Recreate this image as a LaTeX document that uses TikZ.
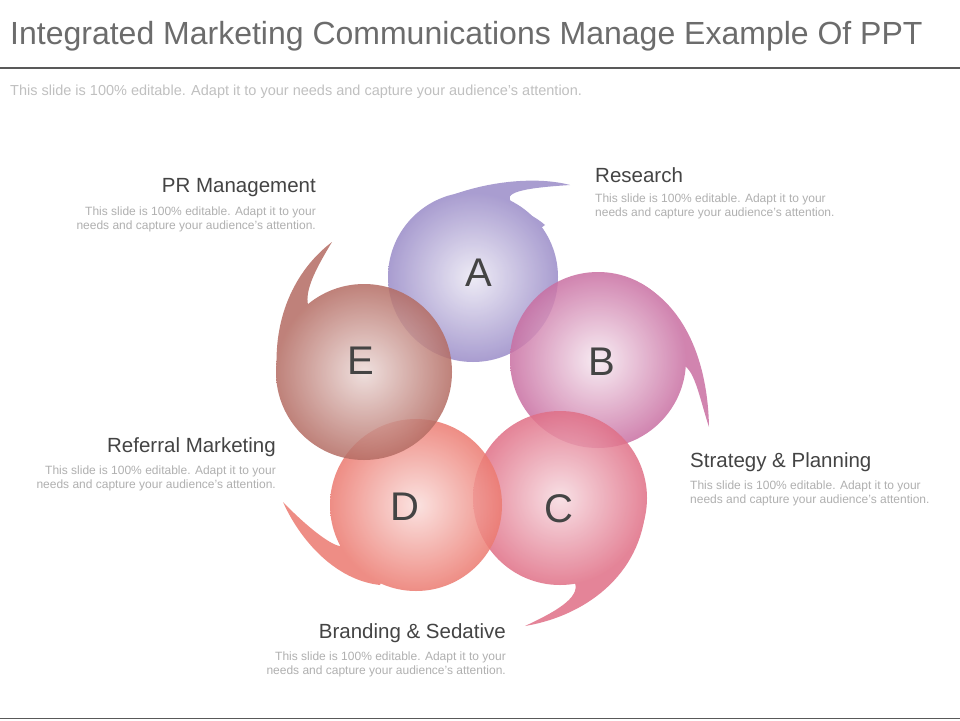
\documentclass[tikz,border=0pt]{standalone}
\usepackage{fontspec}
\setmainfont{Liberation Sans}
\definecolor{colA}{HTML}{9A8CC8}
\definecolor{colB}{HTML}{C96FA2}
\definecolor{colC}{HTML}{E06F86}
\definecolor{colD}{HTML}{EC7A70}
\definecolor{colE}{HTML}{B46C63}
\definecolor{txt}{HTML}{444444}
\definecolor{body}{HTML}{B0B0B0}
\tikzset{
  letter/.style={font=\fontsize{40}{40}\selectfont, text=txt},
  head/.style={font=\fontsize{20.5}{22}\selectfont, text=txt, inner sep=0pt},
  bodytxt/.style={font=\fontsize{12}{14}\selectfont, text=body, inner sep=0pt},
}
\begin{document}
\begin{tikzpicture}[x=1pt,y=-1pt]
\useasboundingbox[fill=white] (0,0) rectangle (960,720);
\node[anchor=west, inner sep=0pt, font=\fontsize{32}{34}\selectfont, text=gray!85!black] (title) at (10,36) {Integrated Marketing Communications Manage Example Of PPT};
\draw[line width=2pt, gray!70!black] (0,68) -- (960,68);
\node[anchor=west, inner sep=0pt, font=\fontsize{14.5}{16}\selectfont, text=body!80!white] (sub) at (10,92) {This slide is 100\% editable. Adapt it to your needs and capture your audience's attention.};
\draw[line width=1pt, gray!70!black] (0,718) -- (960,718);
% A
\begin{scope}[transparency group, opacity=0.85]
\fill[colA] (455,194) .. controls (495,180) and (540,177) .. (570,185) .. controls (540,187) and (505,190) .. (510,200) .. controls (515,210) and (530,212) .. (545,225) -- (473,277) -- cycle;
\shade[inner color=colA!20!white, outer color=colA] (473,277) circle (85);
\end{scope}
% B
\begin{scope}[transparency group, opacity=0.85]
\fill[colB] (640,283) .. controls (690,310) and (708,370) .. (709,427) .. controls (700,400) and (695,370) .. (683,365) .. controls (675,368) and (675,380) .. (675,395) -- (598,360) -- cycle;
\shade[inner color=colB!15!white, outer color=colB] (598,360) circle (88);
\end{scope}
% C
\begin{scope}[transparency group, opacity=0.85]
\fill[colC] (646,500) .. controls (645,570) and (590,615) .. (525,626) .. controls (555,612) and (580,598) .. (575,583) .. controls (565,580) and (555,582) .. (540,582) -- (560,498) -- cycle;
\shade[inner color=colC!25!white, outer color=colC] (560,498) circle (87);
\end{scope}
% D
\begin{scope}[transparency group, opacity=0.85]
\fill[colD] (380,585) .. controls (335,580) and (300,540) .. (283,502) .. controls (305,525) and (330,545) .. (340,546) .. controls (342,535) and (338,530) .. (335,525) -- (416,505) -- cycle;
\shade[inner color=colD!25!white, outer color=colD] (416,505) circle (86);
\end{scope}
% E
\begin{scope}[transparency group, opacity=0.85]
\fill[colE] (278,385) .. controls (270,320) and (295,270) .. (332,242) .. controls (315,270) and (305,290) .. (308,305) .. controls (315,308) and (320,305) .. (330,295) -- (364,372) -- cycle;
\shade[inner color=colE!25!white, outer color=colE] (364,372) circle (88);
\end{scope}
\node[letter] (A) at (479,273) {A};
\node[letter] (B) at (602,362) {B};
\node[letter] (C) at (559,509) {C};
\node[letter] (D) at (405,507) {D};
\node[letter] (E) at (361,361) {E};
% labels
\node[head, anchor=east] (h1) at (316,188) {PR Management};
\node[bodytxt, anchor=north east, align=right] (b1) at (316,207) {This slide is 100\% editable. Adapt it to your\\needs and capture your audience's attention.};
\node[head, anchor=west] (h2) at (595,175) {Research};
\node[bodytxt, anchor=north west, align=left] (b2) at (595,194) {This slide is 100\% editable. Adapt it to your\\needs and capture your audience's attention.};
\node[head, anchor=west] (h3) at (690,462) {Strategy \& Planning};
\node[bodytxt, anchor=north west, align=left] (b3) at (690,481) {This slide is 100\% editable. Adapt it to your\\needs and capture your audience's attention.};
\node[head, anchor=east] (h4) at (276,447) {Referral Marketing};
\node[bodytxt, anchor=north east, align=right] (b4) at (276,466) {This slide is 100\% editable. Adapt it to your\\needs and capture your audience's attention.};
\node[head, anchor=east] (h5) at (506,633) {Branding \& Sedative};
\node[bodytxt, anchor=north east, align=right] (b5) at (506,652) {This slide is 100\% editable. Adapt it to your\\needs and capture your audience's attention.};
\end{tikzpicture}
\end{document}
